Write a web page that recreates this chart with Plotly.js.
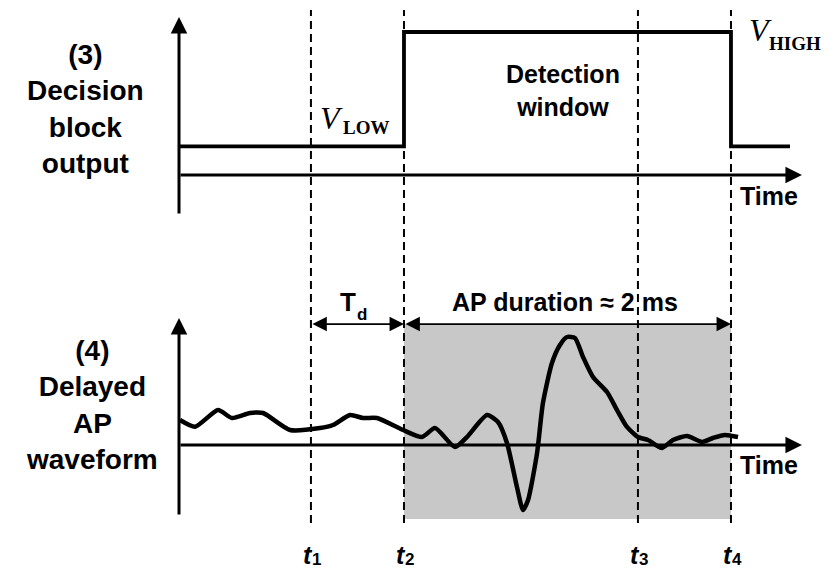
<!DOCTYPE html>
<html>
<head>
<meta charset="utf-8">
<script src="https://cdn.plot.ly/plotly-3.0.1.min.js"></script>
<style>
  html, body { margin: 0; padding: 0; background: #ffffff; }
  #chart { width: 836px; height: 572px; }
</style>
</head>
<body>
<div id="chart"></div>
<script>
// Time is in ms; the span t2 -> t4 covers the ~2 ms action potential.
const markerLabels = ['1', '2', '3', '4'];
const markerTimes = [0.807, 1.376, 2.807, 3.376];

// (3) Decision block output: step between V_LOW and V_HIGH
const decisionTime = [0, 1.376, 3.376, 3.737];
const decisionLevel = [0.2, 1.0, 0.2, 0.2];

// (4) Delayed AP waveform, amplitude normalised to the positive peak
const apTime = [0.006, 0.098, 0.239, 0.324, 0.434, 0.514, 0.679, 0.862, 0.942, 1.046,
                1.125, 1.211, 1.370, 1.486, 1.566, 1.688, 1.761, 1.884, 1.951, 2.006,
                2.067, 2.104, 2.135, 2.190, 2.226, 2.281, 2.330, 2.373, 2.422, 2.471,
                2.532, 2.618, 2.679, 2.740, 2.807, 2.869, 2.954, 3.021, 3.107, 3.199,
                3.266, 3.339, 3.419];
const apAmp = [0.231, 0.169, 0.324, 0.250, 0.296, 0.296, 0.139, 0.157, 0.185, 0.278,
               0.250, 0.250, 0.139, 0.074, 0.157, -0.019, 0.074, 0.278, 0.213, 0.019,
               -0.389, -0.602, -0.509, -0.074, 0.389, 0.759, 0.926, 1.000, 0.991, 0.815,
               0.630, 0.491, 0.324, 0.167, 0.074, 0.046, -0.028, 0.046, 0.083, 0.028,
               0.065, 0.093, 0.074];

const W = 836, H = 572;
const px = x => x / W;
const py = y => 1 - y / H;

const SANS = 'Liberation Sans, Arial, sans-serif';
const SERIF = 'Liberation Serif, Times New Roman, serif';
const tAxisEnd = 3.81;

const traces = [
  {
    x: decisionTime, y: decisionLevel, xaxis: 'x', yaxis: 'y',
    mode: 'lines', line: { shape: 'hv', color: '#000', width: 3.8 },
    hoverinfo: 'skip'
  },
  {
    x: apTime, y: apAmp, xaxis: 'x', yaxis: 'y2',
    mode: 'lines', line: { shape: 'spline', smoothing: 0.6, color: '#000', width: 4.5 },
    hoverinfo: 'skip'
  }
];

const shapes = [
  // detection window shading under the AP
  { type: 'rect', xref: 'x', yref: 'y2', x0: markerTimes[1], x1: markerTimes[3],
    y0: -0.685, y1: 1.12, fillcolor: '#c8c8c8', line: { width: 0 }, layer: 'below' }
];
markerTimes.forEach(t => shapes.push({
  type: 'line', xref: 'x', yref: 'paper', x0: t, x1: t, y0: py(523), y1: py(10),
  line: { color: '#000', width: 2, dash: '8px,5px' }, layer: 'above'
}));

function arrow(x, y, ax, ay, yref, opts) {
  return Object.assign({
    xref: 'x', yref: yref, axref: 'x', ayref: yref,
    x: x, y: y, ax: ax, ay: ay, text: '', showarrow: true,
    arrowhead: 2, arrowsize: 1.1, arrowwidth: 3, arrowcolor: '#000', standoff: 0
  }, opts || {});
}

function label(text, x, y, size, family, extra) {
  return Object.assign({
    xref: 'paper', yref: 'paper', x: px(x), y: py(y), text: text, showarrow: false,
    xanchor: 'center', yanchor: 'middle', font: { family: family || SANS, size: size, color: '#000' }
  }, extra || {});
}

const annotations = [
  // axes with arrow tips
  arrow(0, 1.105, 0, -0.28, 'y'),
  arrow(tAxisEnd, 0, 0, 0, 'y'),
  arrow(0, 1.176, 0, -0.657, 'y2'),
  arrow(tAxisEnd, 0, 0, 0, 'y2'),
  // Td and AP duration spans
  arrow(markerTimes[1], 1.12, markerTimes[0], 1.12, 'y2',
        { arrowside: 'end+start', arrowwidth: 1.8, arrowsize: 1.6 }),
  arrow(markerTimes[3], 1.12, markerTimes[1], 1.12, 'y2',
        { arrowside: 'end+start', arrowwidth: 1.8, arrowsize: 1.6 }),

  label('<b>(3)<br>Decision<br>block<br>output</b>', 85, 109, 28),
  label('<b>(4)<br>Delayed<br>AP<br>waveform</b>', 92, 405, 28),
  label('<b>Detection<br>window</b>', 563, 91, 25),
  label('<i>V</i>', 331, 118, 32, SERIF),
  label('<b>LOW</b>', 366, 128, 19, SERIF),
  label('<i>V</i>', 760, 30, 32, SERIF),
  label('<b>HIGH</b>', 795, 44, 19, SERIF),
  label('<b>Time</b>', 769, 196, 25),
  label('<b>Time</b>', 769, 465, 25),
  label('<b>T</b>', 348, 302, 26),
  label('<b>d</b>', 362, 314, 17),
  label('<b>AP duration ≈ 2 ms</b>', 565, 302, 25)
];

markerTimes.forEach((t, i) => {
  annotations.push({
    xref: 'x', yref: 'paper', x: t, y: py(555), xshift: -2.5, text: '<b><i>t</i></b>',
    showarrow: false, xanchor: 'center', yanchor: 'middle',
    font: { family: SANS, size: 25, color: '#000' }
  });
  annotations.push({
    xref: 'x', yref: 'paper', x: t, y: 0, xshift: 6, yshift: 1, text: '<b>' + markerLabels[i] + '</b>',
    showarrow: false, xanchor: 'center', yanchor: 'bottom',
    font: { family: SANS, size: 17, color: '#000' }
  });
});

const layout = {
  width: W, height: H,
  margin: { l: 0, r: 0, t: 0, b: 0, pad: 0 },
  paper_bgcolor: '#ffffff', plot_bgcolor: '#ffffff',
  showlegend: false,
  xaxis: { range: [-179 / 163.5, (W - 179) / 163.5], visible: false, fixedrange: true },
  yaxis: { range: [(175 - H) / 143, 175 / 143], visible: false, fixedrange: true },
  yaxis2: { range: [(445 - H) / 108, 445 / 108], overlaying: 'y', anchor: 'x',
            visible: false, fixedrange: true },
  shapes: shapes,
  annotations: annotations
};

Plotly.newPlot('chart', traces, layout, { staticPlot: true, displayModeBar: false });
</script>
</body>
</html>
